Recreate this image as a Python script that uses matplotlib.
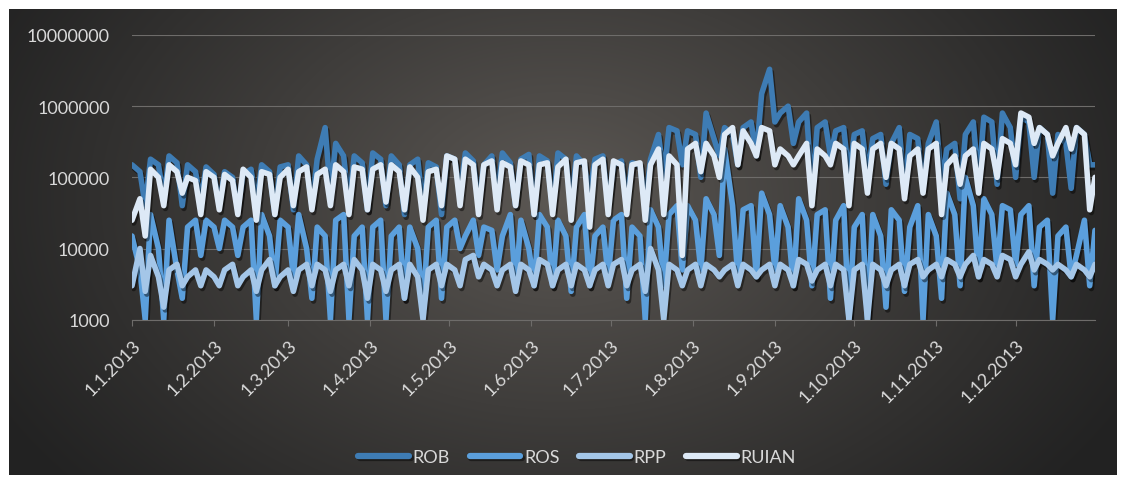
import numpy as np
import pandas as pd
import matplotlib
matplotlib.use("Agg")
import matplotlib.pyplot as plt
import matplotlib.dates as mdates
import matplotlib.patheffects as pe
from matplotlib.ticker import FuncFormatter

plt.rcParams['font.family'] = ['Lato', 'DejaVu Sans']

# sampling grid: Tuesday, Friday, Sunday of every week in 2013, plus 31.12.
sample_days = [7 * k + d for k in range(52) for d in (0, 3, 5)] + [364]

series_names = ['ROB', 'ROS', 'RPP', 'RUIAN']

# values in thousands (one row per month)
rob = [150, 120, 40, 180, 150, 50, 200, 160, 40, 150, 120, 45, 140, 110, 40,
       120, 100, 35, 110, 130, 40, 150, 120, 30, 140, 150, 35,
       200, 150, 40, 180, 500, 60, 300, 200, 40, 200, 160, 35,
       220, 180, 40, 200, 150, 30, 150, 180, 35, 160, 140, 30,
       200, 180, 60, 220, 170, 40, 150, 200, 50, 220, 160, 40, 180, 210, 30,
       200, 170, 35, 220, 180, 40, 200, 150, 60, 180, 200, 40,
       150, 170, 45, 160, 150, 40, 180, 400, 100, 500, 450, 150,
       450, 400, 100, 800, 350, 200, 500, 400, 150, 500, 600, 200, 1500, 3300, 600,
       800, 1000, 300, 600, 800, 60, 500, 600, 200, 450, 500, 100,
       400, 450, 100, 350, 400, 80, 300, 500, 60, 400, 350, 70, 300, 600, 80,
       250, 300, 50, 400, 600, 80, 700, 600, 80, 800, 500, 100,
       700, 600, 100, 500, 400, 60, 400, 300, 70, 500, 400, 150,
       150]

ros = [15, 5, 1, 30, 10, 1, 25, 5, 2, 20, 25, 8, 25, 20, 10,
       25, 20, 8, 20, 25, 1, 30, 15, 3, 25, 20, 4,
       30, 10, 2, 20, 15, 1, 25, 30, 1, 15, 20, 1,
       20, 25, 1, 15, 20, 2, 20, 10, 1.5, 20, 25, 2,
       20, 25, 10, 15, 25, 8, 20, 18, 5, 15, 30, 3, 25, 10, 3,
       30, 20, 3, 25, 15, 2.5, 20, 30, 3, 15, 20, 4,
       25, 30, 2, 20, 15, 1, 35, 20, 3, 30, 40, 5,
       40, 25, 5, 50, 30, 8, 250, 40, 4, 35, 40, 4, 60, 30, 5,
       40, 20, 3, 50, 25, 3, 30, 35, 2, 25, 40, 1,
       20, 30, 1, 30, 15, 1.5, 35, 25, 2.5, 20, 40, 1, 30, 15, 2,
       60, 30, 3, 100, 40, 4, 50, 30, 5, 40, 35, 6,
       30, 40, 3, 20, 25, 1, 15, 20, 4, 8, 25, 3,
       18]

rpp = [3, 10, 2.5, 8, 4, 1.5, 5, 6, 3, 4, 5, 3, 5, 4, 3,
       5, 6, 3, 4, 5, 2.5, 5, 7, 3, 4, 5, 2.5,
       5, 6, 3, 6, 5, 2.5, 5, 6, 3, 7, 5, 2,
       6, 5, 2.5, 5, 6, 2, 6, 4, 1, 5, 6, 3,
       6, 5, 3, 7, 8, 4, 6, 5, 3, 5, 6, 2.5, 6, 5, 3,
       7, 6, 3, 5, 6, 3, 6, 5, 3, 5, 6, 3,
       6, 7, 3, 5, 6, 2.5, 10, 5, 1, 6, 5, 3,
       5, 6, 3, 6, 5, 4, 5, 6, 3, 6, 5, 4, 5, 6, 3,
       6, 5, 3, 7, 6, 3.5, 5, 6, 3, 6, 5, 1,
       5, 6, 1, 6, 5, 3, 5, 6, 3, 6, 7, 4, 5, 6, 4,
       7, 6, 4, 6, 8, 4, 7, 6, 4, 8, 7, 4,
       6, 9, 5, 7, 6, 5, 6, 5, 4, 6, 5, 4,
       6]

ruian = [25, 50, 15, 130, 100, 40, 150, 120, 60, 100, 90, 30, 120, 100, 35,
         110, 90, 30, 130, 100, 25, 120, 110, 30, 100, 130, 40,
         120, 140, 35, 110, 130, 40, 150, 120, 30, 140, 130, 35,
         130, 150, 45, 150, 120, 35, 140, 100, 25, 120, 130, 40,
         200, 180, 40, 180, 150, 30, 150, 170, 35, 160, 140, 40, 170, 150, 30,
         150, 160, 30, 140, 180, 25, 160, 170, 20, 150, 180, 30,
         170, 150, 30, 150, 160, 25, 150, 250, 30, 200, 150, 8,
         250, 300, 120, 300, 200, 100, 400, 500, 150, 450, 300, 200, 500, 450, 150,
         250, 200, 150, 200, 300, 40, 250, 200, 150, 300, 250, 40,
         300, 250, 60, 250, 300, 100, 300, 250, 50, 200, 250, 60, 250, 300, 30,
         150, 200, 80, 200, 250, 60, 300, 250, 100, 350, 300, 150,
         800, 700, 300, 500, 400, 200, 300, 500, 250, 500, 400, 35,
         100]

colors = ['#3e7cb4', '#5b9fdc', '#a4c6e8', '#dde9f6']
text_color = '#d9d9d9'

W, H = 1126, 485
fig = plt.figure(figsize=(W / 100, H / 100), dpi=100, facecolor='white')

# dark chart area with a soft radial gradient
bx0, by0, bx1, by1 = 9, 10, 1117, 476
bg = fig.add_axes([bx0 / W, 1 - by1 / H, (bx1 - bx0) / W, (by1 - by0) / H])
yy, xx = np.mgrid[by0:by1, bx0:bx1]
r = np.sqrt(((xx - 560) / 650.0) ** 2 + ((yy - 200) / 450.0) ** 2)
t = np.clip(1 - r, 0, 1) ** 1.1
center = np.array([0x5c, 0x58, 0x54]) / 255
edge = np.array([0x22, 0x22, 0x22]) / 255
img = edge + (center - edge) * t[..., None]
bg.imshow(img, aspect='auto', interpolation='bilinear')
bg.axis('off')

ax = fig.add_axes([132 / W, 1 - 320.7 / H, 963 / W, 284.7 / H])
ax.set_facecolor('none')

dates = pd.Timestamp('2013-01-01') + pd.to_timedelta(sample_days, unit='D')
shadow = [pe.SimpleLineShadow(offset=(1.2, -2), shadow_color='black', alpha=0.45),
          pe.Normal()]
for name, vals, c in zip(series_names, [rob, ros, rpp, ruian], colors):
    ax.plot(dates, np.array(vals) * 1000, color=c, lw=4.0, label=name,
            solid_joinstyle='round', solid_capstyle='round', path_effects=shadow)

ax.set_yscale('log')
ax.set_ylim(1000, 1e7)
ax.set_yticks([1e3, 1e4, 1e5, 1e6, 1e7])
ax.yaxis.set_minor_locator(matplotlib.ticker.NullLocator())
ax.yaxis.set_major_formatter(FuncFormatter(lambda v, p: f"{int(round(v))}"))
ax.set_xlim(pd.Timestamp('2013-01-01'), pd.Timestamp('2013-12-31'))
ax.xaxis.set_major_locator(mdates.MonthLocator())
ax.xaxis.set_major_formatter(FuncFormatter(
    lambda v, p: "{0.day}.{0.month}.{0.year}".format(mdates.num2date(v))))

ax.grid(axis='y', color='#6e6c6a', lw=0.8)
ax.set_axisbelow(True)
for s in ['top', 'right', 'left']:
    ax.spines[s].set_visible(False)
ax.spines['bottom'].set_color('#6e6c6a')
ax.tick_params(axis='y', length=0, pad=16, labelsize=13, labelcolor=text_color)
ax.tick_params(axis='x', length=4, color='#6e6c6a', pad=8, labelsize=13,
               labelcolor=text_color)
for lab in ax.get_xticklabels():
    lab.set_rotation(45)
    lab.set_ha('right')
    lab.set_va('top')
    lab.set_rotation_mode('anchor')

leg = fig.legend(loc='center', bbox_to_anchor=(577 / W, 1 - 458 / H), ncol=4,
                 frameon=False, fontsize=13, handlelength=2.8, handletextpad=0.2,
                 columnspacing=1.1, labelcolor=text_color)
for line in leg.get_lines():
    line.set_linewidth(4.5)

fig.savefig('out.png', dpi=100, facecolor=fig.get_facecolor())
